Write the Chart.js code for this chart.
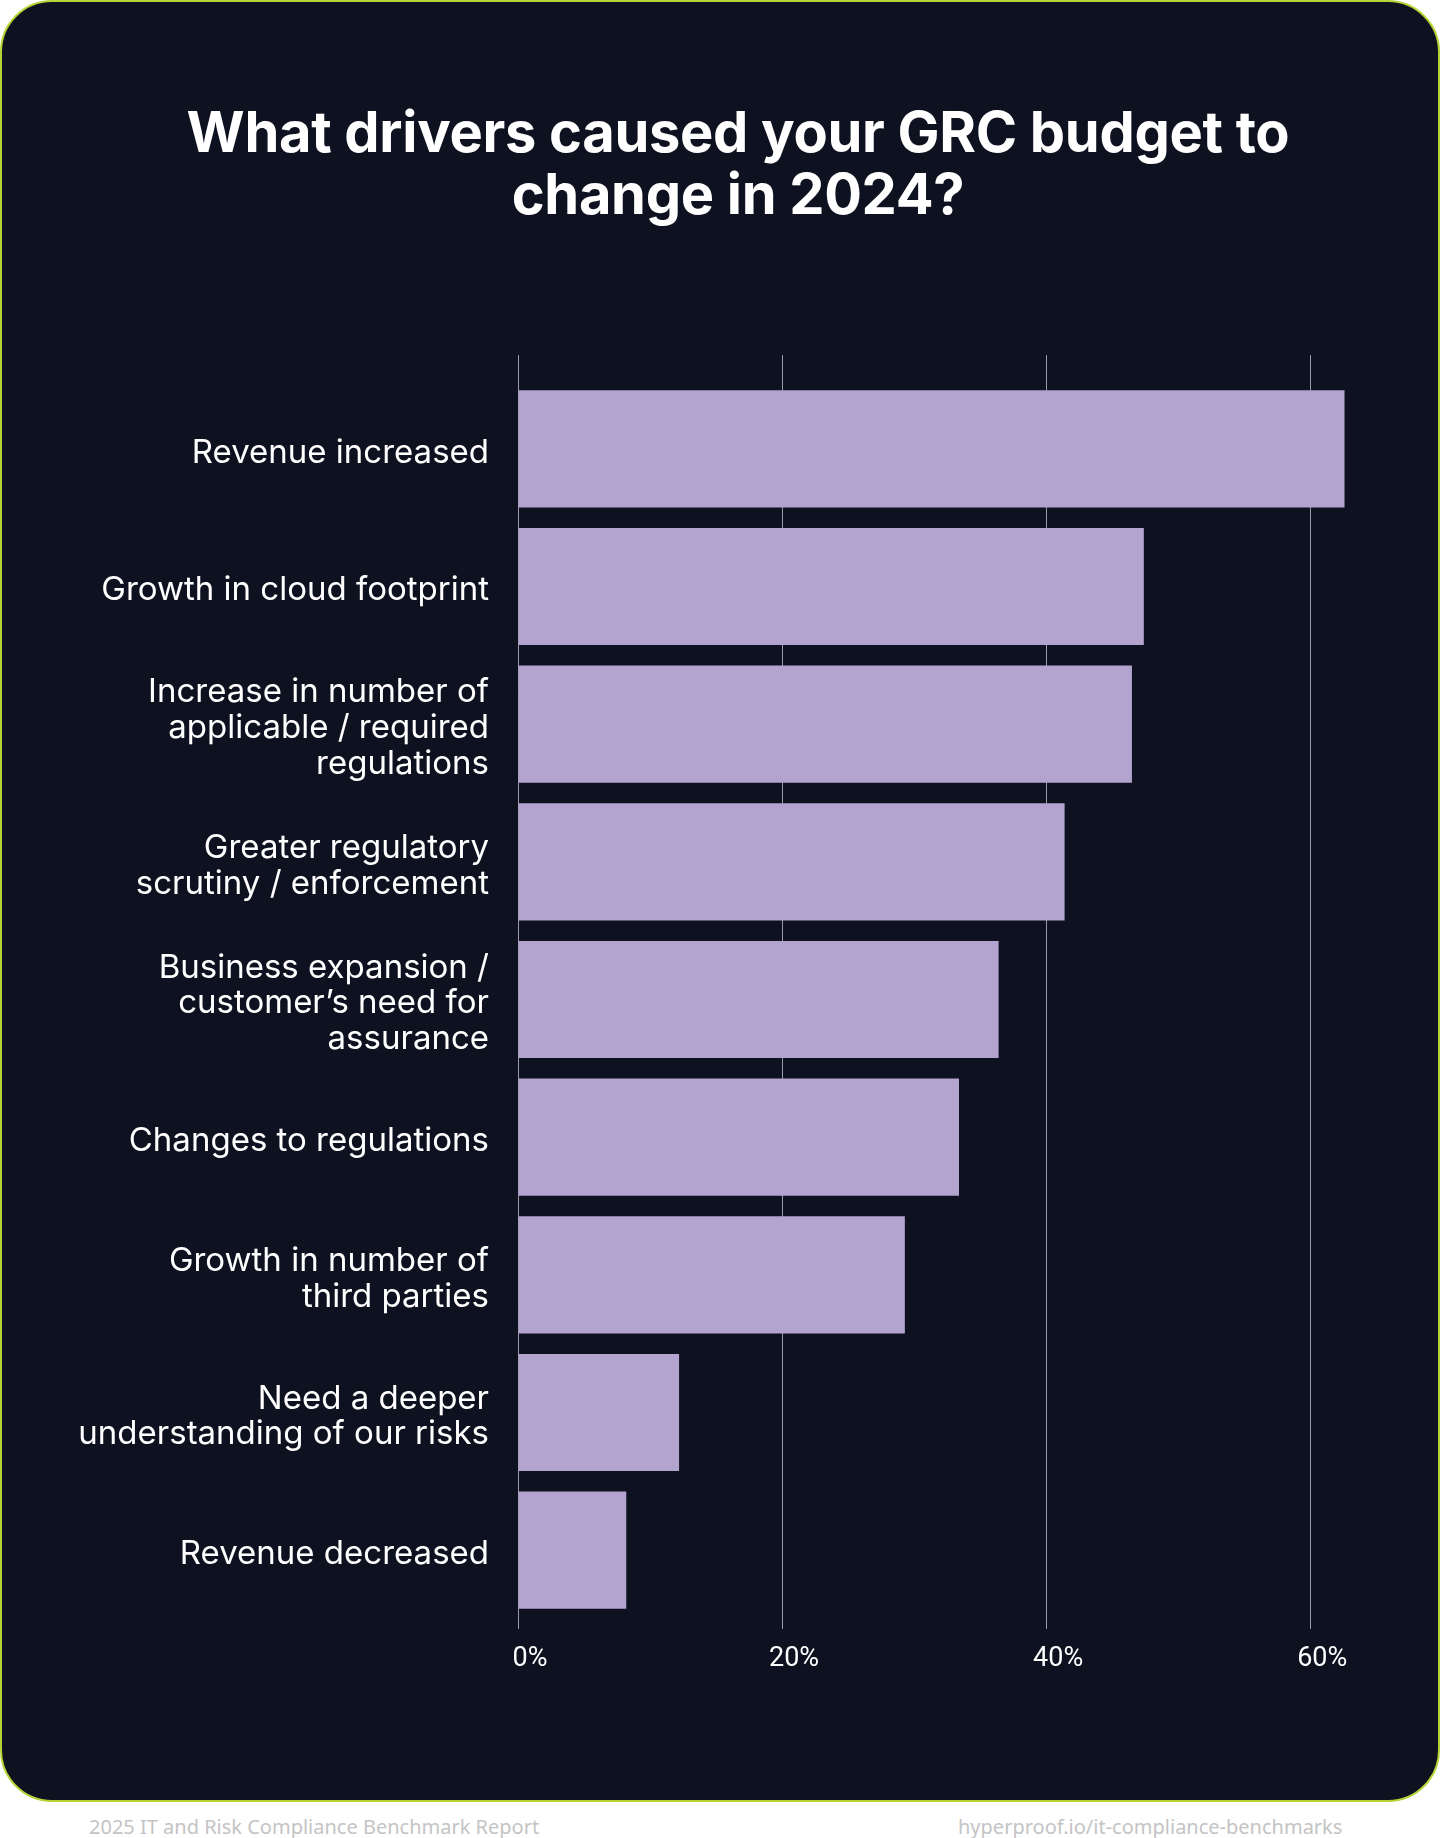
<!DOCTYPE html>
<html>
<head>
<meta charset="utf-8">
<script src="https://cdn.jsdelivr.net/npm/chart.js@4.4.1/dist/chart.umd.min.js"></script>
<style>
  html, body { margin: 0; padding: 0; background: #ffffff; }
  #page { position: relative; width: 1440px; height: 1838px; overflow: hidden; }
  #card {
    position: absolute; left: 0; top: 0; width: 1440px; height: 1802px;
    box-sizing: border-box; background: #0e111f;
    border: 2px solid #b5d335; border-radius: 52px;
  }
  #chart { position: absolute; left: 0; top: 0; }
  #title {
    position: absolute; left: 0; top: 101px; width: 1476px;
    text-align: center; color: #ffffff;
    font-family: Inter, sans-serif; font-weight: 700;
    font-size: 56px; line-height: 62px; letter-spacing: -0.3px;
  }
  .foot {
    position: absolute; top: 1815px; color: #c4c4c4;
    font-family: "Noto Sans", sans-serif; font-size: 20px; line-height: 24px;
  }
</style>
</head>
<body>
<div id="page">
  <div id="card"></div>
  <canvas id="chart" width="1440" height="1800"></canvas>
  <div id="title">What drivers caused your GRC budget to<br>change in 2024?</div>
  <div class="foot" style="left:89px;">2025 IT and Risk Compliance Benchmark Report</div>
  <div class="foot" style="left:958px;">hyperproof.io/it-compliance-benchmarks</div>
</div>
<script>
// Drivers, top to bottom
const drivers = [
    ['Revenue increased'],
    ['Growth in cloud footprint'],
    ['Increase in number of', 'applicable / required', 'regulations'],
    ['Greater regulatory', 'scrutiny / enforcement'],
    ['Business expansion /', 'customer’s need for', 'assurance'],
    ['Changes to regulations'],
    ['Growth in number of', 'third parties'],
    ['Need a deeper', 'understanding of our risks'],
    ['Revenue decreased']
];

// Share of respondents (%)
const shares = [62.6, 47.4, 46.5, 41.4, 36.4, 33.4, 29.3, 12.2, 8.2];

// Tick labels on the value axis
const tickValues = [0, 20, 40, 60];

const gridColor = 'rgba(232, 226, 244, 0.65)';
const keepTicks = axis => { axis.ticks = tickValues.map(v => ({ value: v })); };

const ctx = document.getElementById('chart').getContext('2d');

const chart = new Chart(ctx, {
    type: 'bar',
    data: {
        labels: drivers,
        datasets: [
            {
                label: 'Share',
                data: shares,
                backgroundColor: '#b3a3cf',
                borderWidth: 0,
                barPercentage: 0.851,
                categoryPercentage: 1
            }
        ]
    },
    options: {
        indexAxis: 'y',
        responsive: false,
        animation: false,
        layout: {
            padding: { top: 355, bottom: 111, left: 0, right: 77 }
        },
        plugins: {
            legend: { display: false },
            title: { display: false },
            tooltip: { enabled: false }
        },
        scales: {
            x: {
                position: 'bottom',
                min: 0,
                max: 64,
                z: 1,
                afterBuildTicks: keepTicks,
                afterFit: scale => { scale.height = 70; },
                border: { display: false },
                grid: {
                    color: gridColor,
                    lineWidth: 1,
                    drawTicks: true,
                    tickLength: 10
                },
                ticks: {
                    color: '#ffffff',
                    font: { family: 'Roboto', size: 27 },
                    padding: 14,
                    labelOffset: 12,
                    callback: v => v + '%'
                }
            },
            x2: {
                position: 'top',
                axis: 'x',
                min: 0,
                max: 64,
                afterBuildTicks: keepTicks,
                afterFit: scale => { scale.height = 25; },
                border: { display: false },
                grid: {
                    color: gridColor,
                    lineWidth: 1,
                    drawOnChartArea: false,
                    drawTicks: true,
                    tickLength: 25
                },
                ticks: { display: false }
            },
            y: {
                afterFit: scale => { scale.width = 518; },
                border: { display: false },
                grid: { display: false, drawTicks: false },
                ticks: {
                    color: '#ffffff',
                    font: { family: 'Inter', size: 33, lineHeight: 1.08 },
                    padding: 29,
                    labelOffset: 4
                }
            }
        }
    }
});
</script>
</body>
</html>
